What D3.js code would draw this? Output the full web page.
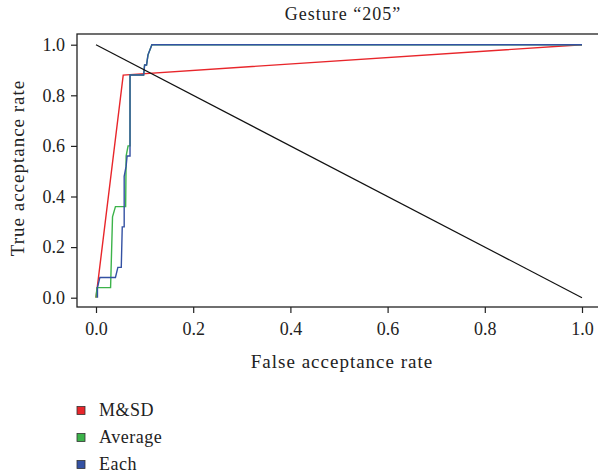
<!DOCTYPE html>
<html>
<head>
<meta charset="utf-8">
<script src="https://cdn.jsdelivr.net/npm/d3@7"></script>
<style>
  body { margin: 0; background: #fff; }
  text { font-family: "Liberation Serif", "DejaVu Serif", serif; fill: #222; }
</style>
</head>
<body>
<svg id="chart" width="598" height="472"></svg>
<script>
// series: [false acceptance rate, true acceptance rate]
var msd = [[0, 0], [0.056, 0.88], [1, 1]];
var average = [[0, 0], [0.002, 0.04], [0.03, 0.04], [0.034, 0.32], [0.04, 0.36], [0.061, 0.36],
  [0.062, 0.56], [0.066, 0.6], [0.07, 0.6], [0.07, 0.88], [0.098, 0.88], [0.1, 0.92],
  [0.104, 0.92], [0.107, 0.96], [0.115, 1], [1, 1]];
var each = [[0.003, 0], [0.003, 0.04], [0.008, 0.08], [0.04, 0.08], [0.045, 0.12], [0.052, 0.12],
  [0.054, 0.28], [0.058, 0.28], [0.058, 0.48], [0.062, 0.52], [0.064, 0.56], [0.07, 0.56],
  [0.07, 0.88], [0.098, 0.88], [0.1, 0.92], [0.104, 0.92], [0.107, 0.96], [0.115, 1], [1, 1]];
var chance = [[0, 1], [1, 0]];
var ticks = [0, 0.2, 0.4, 0.6, 0.8, 1.0];
var seriesNames = ["M&SD", "Average", "Each"];
var seriesColors = ["#e8262b", "#3cb34a", "#3451a3"];

var svg = d3.select("#chart");
var box = {l: 77, t: 34, r: 610, b: 307};

var x = d3.scaleLinear().domain([0, 1]).range([96, 582]);
var y = d3.scaleLinear().domain([0, 1]).range([297.7, 44.7]);

svg.append("rect")
  .attr("x", box.l).attr("y", box.t)
  .attr("width", box.r - box.l).attr("height", box.b - box.t)
  .attr("fill", "none").attr("stroke", "#222").attr("stroke-width", 1.3);

var xAxis = svg.append("g")
  .attr("transform", "translate(0," + box.b + ")")
  .call(d3.axisBottom(x).tickValues(ticks).tickFormat(d3.format(".1f")).tickSize(6).tickPadding(9));
var yAxis = svg.append("g")
  .attr("transform", "translate(" + box.l + ",0)")
  .call(d3.axisLeft(y).tickValues(ticks).tickFormat(d3.format(".1f")).tickSize(6).tickPadding(6));
[xAxis, yAxis].forEach(function(a) {
  a.select(".domain").remove();
  a.selectAll("line").attr("stroke", "#222").attr("stroke-width", 1.2);
  a.selectAll("text").style("font-size", "18px").attr("fill", "#222")
    .style("font-family", "'Liberation Serif', serif");
});

var line = d3.line().x(function(d) { return x(d[0]); }).y(function(d) { return y(d[1]); });

[msd, average, each].forEach(function(s, i) {
  svg.append("path").datum(s)
    .attr("d", line)
    .attr("fill", "none")
    .attr("stroke", seriesColors[i])
    .attr("stroke-width", 1.4);
});
svg.append("path").datum(chance)
  .attr("d", line).attr("fill", "none").attr("stroke", "#111").attr("stroke-width", 1.2);

svg.append("text").attr("x", 343).attr("y", 20).attr("text-anchor", "middle")
  .style("font-size", "18px").style("letter-spacing", "1px").text("Gesture \u201c205\u201d");
svg.append("text").attr("x", 342).attr("y", 368).attr("text-anchor", "middle")
  .style("font-size", "19px").style("letter-spacing", "1px").text("False acceptance rate");
svg.append("text")
  .attr("transform", "translate(24,168) rotate(-90)")
  .attr("text-anchor", "middle")
  .style("font-size", "19px").style("letter-spacing", "1px").text("True acceptance rate");

var legend = svg.selectAll(".legend").data(seriesNames).enter()
  .append("g").attr("class", "legend")
  .attr("transform", function(d, i) { return "translate(77," + (410.5 + i * 27) + ")"; });
legend.append("rect")
  .attr("x", 0).attr("y", -4).attr("width", 8).attr("height", 8)
  .attr("fill", function(d, i) { return seriesColors[i]; })
  .attr("stroke", "#333").attr("stroke-width", 0.8);
legend.append("text")
  .attr("x", 22).attr("y", 5)
  .style("font-size", "18px").style("letter-spacing", "0.5px")
  .text(function(d) { return d; });
</script>
</body>
</html>
